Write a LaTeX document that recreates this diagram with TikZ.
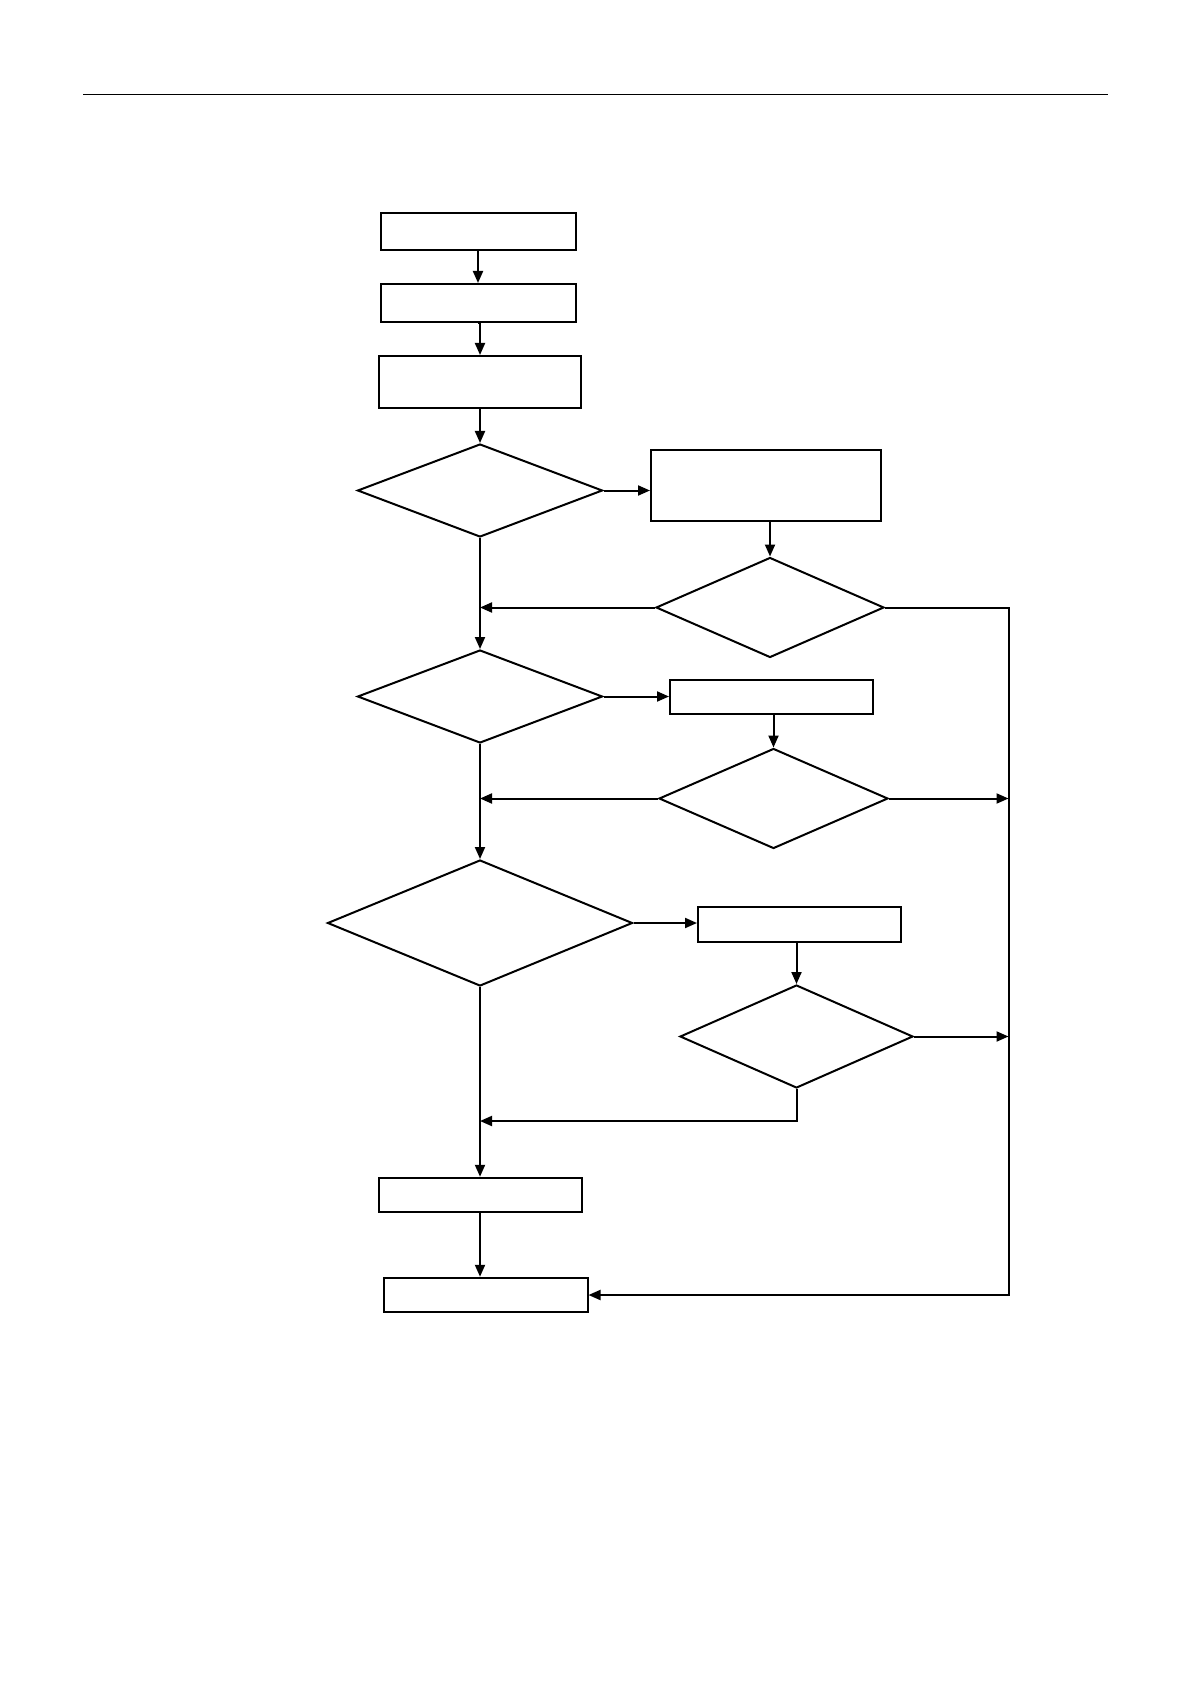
\documentclass[tikz,border=0pt]{standalone}
\usepackage{tikz}
\usetikzlibrary{arrows.meta,shapes.geometric}

\begin{document}
\begin{tikzpicture}[x=0.5pt, y=-0.5pt, line width=1pt,
    blk/.style={draw, rectangle, inner sep=0pt},
    dec/.style={draw, diamond, inner sep=0pt},
    flow/.style={-{Triangle[length=6pt,width=5pt]}}]
    \useasboundingbox (0,0) rectangle (1191,1684);

    % header rule
    \coordinate (ruleL) at (83,94.5);
    \coordinate (ruleR) at (1108,94.5);
    \draw[line width=0.6pt] (ruleL) -- (ruleR);

    % main column
    \node[blk, minimum width=97.5pt, minimum height=18.5pt] (b1) at (478,231.5) {};
    \node[blk, minimum width=97.5pt, minimum height=19pt] (b2) at (478,303) {};
    \node[blk, minimum width=101pt, minimum height=26pt] (b3) at (480,382) {};
    \node[dec, minimum width=122.5pt, minimum height=46.5pt] (d1) at (480,490.5) {};
    \node[dec, minimum width=122.5pt, minimum height=46.5pt] (d3) at (480,696.5) {};
    \node[dec, minimum width=152.5pt, minimum height=63pt] (d5) at (480,923) {};
    \node[blk, minimum width=101.5pt, minimum height=17.25pt] (b7) at (480,1195) {};
    \node[blk, minimum width=102pt, minimum height=17.25pt] (b8) at (485.5,1295) {};

    % side branches
    \node[blk, minimum width=115pt, minimum height=35.5pt] (b4) at (766,485.5) {};
    \node[dec, minimum width=114pt, minimum height=50pt] (d2) at (770,607.5) {};
    \node[blk, minimum width=101.5pt, minimum height=17pt] (b5) at (771.5,697) {};
    \node[dec, minimum width=114.5pt, minimum height=50pt] (d4) at (773.5,798.5) {};
    \node[blk, minimum width=101.5pt, minimum height=17.25pt] (b6) at (799.5,924.7) {};
    \node[dec, minimum width=116.5pt, minimum height=51.5pt] (d6) at (796.5,1036.5) {};

    \coordinate (rail) at (1008.5,607.5);
    \coordinate (join) at (796.5,1121);

    % trunk
    \draw[flow] (b1.south) -- (b2.north);
    \draw[flow] (b2.south) -- (b3.south |- b2.south) -- (b3.north);
    \draw[flow] (b3.south) -- (d1.north);
    \draw[flow] (d1.south) -- (d3.north);
    \draw[flow] (d3.south) -- (d5.north);
    \draw[flow] (d5.south) -- (b7.north);
    \draw[flow] (b7.south) -- (b7.south |- b8.north);

    % branches out
    \draw[flow] (d1.east) -- (d1.east -| b4.west);
    \draw[flow] (d2.north |- b4.south) -- (d2.north);
    \draw[flow] (d3.east) -- (d3.east -| b5.west);
    \draw[flow] (d4.north |- b5.south) -- (d4.north);
    \draw[flow] (d5.east) -- (d5.east -| b6.west);
    \draw[flow] (d6.north |- b6.south) -- (d6.north);

    % back to trunk
    \draw[flow] (d2.west) -- (d2.west -| d1.south);
    \draw[flow] (d4.west) -- (d4.west -| d3.south);
    \draw[flow] (d6.south) -- (join) -- (join -| d5.south);

    % right rail
    \draw[flow] (d2.east) -- (rail) -- (rail |- b8.east) -- (b8.east);
    \draw[flow] (d4.east) -- (d4.east -| rail);
    \draw[flow] (d6.east) -- (d6.east -| rail);
\end{tikzpicture}
\end{document}
